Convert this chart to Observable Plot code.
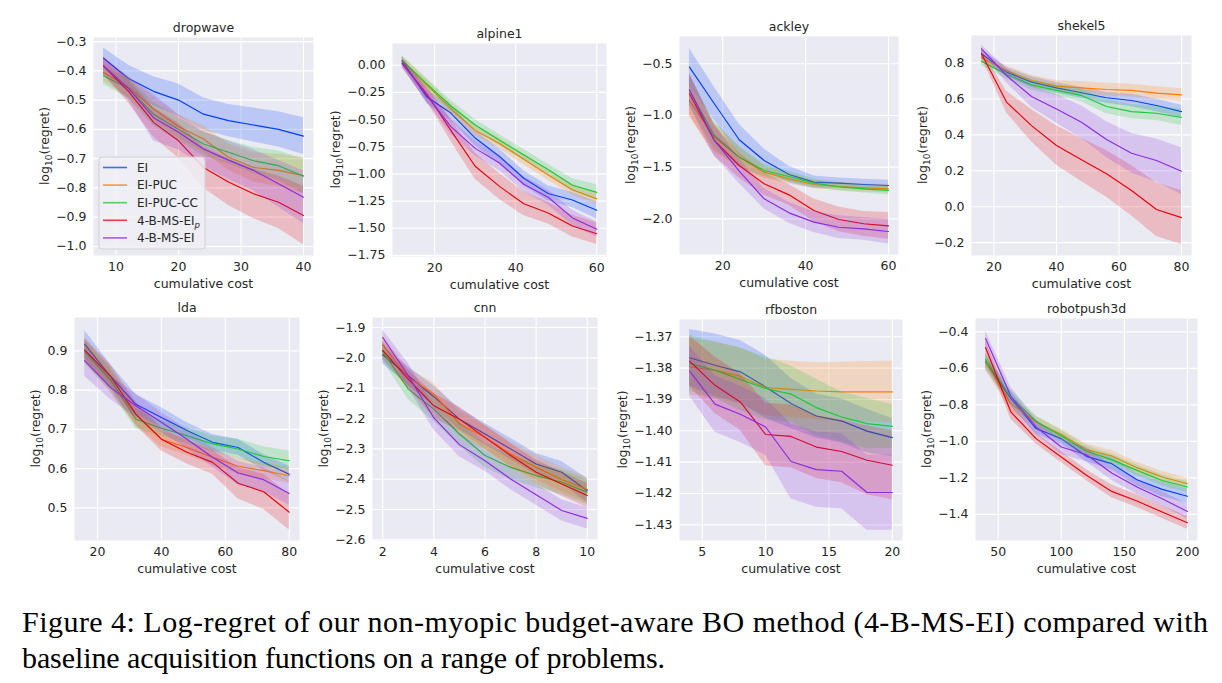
<!DOCTYPE html>
<html><head><meta charset="utf-8">
<script src="https://cdn.jsdelivr.net/npm/d3@7"></script>
<script src="https://cdn.jsdelivr.net/npm/@observablehq/plot@0.6"></script>
<style>
body{margin:0;background:#fff;}
#root{position:relative;width:1222px;height:683px;overflow:hidden;font-family:"DejaVu Sans",sans-serif;}
#root svg.panel{position:absolute;}
#caption{position:absolute;left:0;top:0;}
</style></head><body><div id="root"></div>
<script>
// ---------- series ----------
const seriesNames = ["EI", "EI-PUC", "EI-PUC-CC", "4-B-MS-EIp", "4-B-MS-EI"];
const seriesColors = ["#023eff", "#ff7c00", "#1ac938", "#e8000b", "#8b2be2"];

// ---------- dropwave ----------
const dropwaveX = [8, 12, 16, 20, 24, 28, 32, 36, 40];
const dropwaveMean = [
  [-0.357, -0.426, -0.470, -0.500, -0.548, -0.570, -0.585, -0.600, -0.623],
  [-0.406, -0.455, -0.530, -0.590, -0.633, -0.695, -0.730, -0.740, -0.758],
  [-0.417, -0.460, -0.548, -0.600, -0.650, -0.678, -0.707, -0.724, -0.760],
  [-0.383, -0.470, -0.576, -0.639, -0.730, -0.780, -0.820, -0.849, -0.894],
  [-0.383, -0.460, -0.560, -0.610, -0.667, -0.705, -0.740, -0.786, -0.832]];
const dropwaveErr = [
  [0.035, 0.045, 0.05, 0.055, 0.055, 0.055, 0.058, 0.06, 0.063],
  [0.03, 0.035, 0.04, 0.04, 0.045, 0.045, 0.05, 0.055, 0.06],
  [0.03, 0.035, 0.04, 0.04, 0.04, 0.04, 0.045, 0.05, 0.06],
  [0.03, 0.04, 0.05, 0.06, 0.07, 0.08, 0.085, 0.09, 0.1],
  [0.03, 0.04, 0.08, 0.06, 0.06, 0.065, 0.07, 0.08, 0.09]];
const dropwaveXTicks = [10, 20, 30, 40];
const dropwaveYTicks = [-1.0, -0.9, -0.8, -0.7, -0.6, -0.5, -0.4, -0.3];

// ---------- alpine1 ----------
const alpine1X = [12, 18, 24, 30, 36, 42, 48, 54, 60];
const alpine1Mean = [
  [0.04, -0.29, -0.44, -0.67, -0.84, -1.04, -1.18, -1.24, -1.335],
  [0.045, -0.18, -0.40, -0.60, -0.72, -0.865, -1.01, -1.145, -1.23],
  [0.045, -0.17, -0.375, -0.55, -0.69, -0.825, -0.96, -1.105, -1.17],
  [0.015, -0.26, -0.60, -0.93, -1.115, -1.275, -1.36, -1.48, -1.55],
  [0.02, -0.275, -0.565, -0.765, -0.90, -1.095, -1.215, -1.405, -1.51]];
const alpine1Err = [
  [0.04, 0.06, 0.07, 0.07, 0.07, 0.07, 0.07, 0.07, 0.08],
  [0.04, 0.05, 0.05, 0.05, 0.05, 0.05, 0.05, 0.05, 0.05],
  [0.04, 0.05, 0.05, 0.05, 0.05, 0.05, 0.05, 0.06, 0.07],
  [0.04, 0.07, 0.1, 0.12, 0.12, 0.11, 0.1, 0.1, 0.1],
  [0.04, 0.06, 0.07, 0.07, 0.07, 0.07, 0.07, 0.07, 0.07]];
const alpine1XTicks = [20, 40, 60];
const alpine1YTicks = [-1.75, -1.5, -1.25, -1.0, -0.75, -0.5, -0.25, 0.0];

// ---------- ackley ----------
const ackleyX = [12, 18, 24, 30, 36, 42, 48, 54, 60];
const ackleyMean = [
  [-0.532, -0.887, -1.235, -1.435, -1.571, -1.645, -1.655, -1.668, -1.677],
  [-0.855, -1.21, -1.403, -1.548, -1.613, -1.668, -1.687, -1.70, -1.71],
  [-0.758, -1.194, -1.403, -1.532, -1.59, -1.655, -1.69, -1.71, -1.726],
  [-0.79, -1.242, -1.484, -1.661, -1.768, -1.919, -2.006, -2.048, -2.068],
  [-0.752, -1.242, -1.539, -1.806, -1.942, -2.032, -2.081, -2.097, -2.123]];
const ackleyErr = [
  [0.18, 0.16, 0.15, 0.11, 0.08, 0.06, 0.05, 0.05, 0.05],
  [0.16, 0.14, 0.1, 0.06, 0.05, 0.04, 0.04, 0.04, 0.04],
  [0.15, 0.13, 0.1, 0.06, 0.05, 0.04, 0.04, 0.04, 0.04],
  [0.2, 0.15, 0.12, 0.11, 0.1, 0.11, 0.12, 0.12, 0.13],
  [0.15, 0.15, 0.12, 0.1, 0.1, 0.1, 0.11, 0.11, 0.12]];
const ackleyXTicks = [20, 40, 60];
const ackleyYTicks = [-2.0, -1.5, -1.0, -0.5];

// ---------- shekel5 ----------
const shekel5X = [16, 24, 32, 40, 48, 56, 64, 72, 80];
const shekel5Mean = [
  [0.852, 0.75, 0.694, 0.662, 0.635, 0.607, 0.592, 0.564, 0.53],
  [0.83, 0.759, 0.703, 0.672, 0.662, 0.653, 0.648, 0.633, 0.623],
  [0.811, 0.737, 0.679, 0.648, 0.62, 0.558, 0.53, 0.521, 0.497],
  [0.852, 0.583, 0.452, 0.341, 0.261, 0.183, 0.09, -0.016, -0.061],
  [0.88, 0.731, 0.614, 0.545, 0.471, 0.374, 0.298, 0.257, 0.198]];
const shekel5Err = [
  [0.025, 0.025, 0.03, 0.03, 0.03, 0.03, 0.035, 0.035, 0.035],
  [0.025, 0.025, 0.03, 0.03, 0.035, 0.035, 0.035, 0.035, 0.035],
  [0.025, 0.025, 0.03, 0.03, 0.035, 0.04, 0.04, 0.04, 0.045],
  [0.02, 0.06, 0.09, 0.11, 0.12, 0.13, 0.14, 0.15, 0.15],
  [0.02, 0.04, 0.06, 0.08, 0.09, 0.1, 0.11, 0.12, 0.13]];
const shekel5XTicks = [20, 40, 60, 80];
const shekel5YTicks = [-0.2, 0.0, 0.2, 0.4, 0.6, 0.8];

// ---------- lda ----------
const ldaX = [16, 24, 32, 40, 48, 56, 64, 72, 80];
const ldaMean = [
  [0.917, 0.836, 0.764, 0.73, 0.697, 0.667, 0.654, 0.616, 0.586],
  [0.9, 0.824, 0.737, 0.675, 0.654, 0.629, 0.606, 0.595, 0.582],
  [0.898, 0.828, 0.726, 0.703, 0.684, 0.663, 0.65, 0.631, 0.62],
  [0.902, 0.836, 0.739, 0.675, 0.642, 0.616, 0.563, 0.541, 0.489],
  [0.875, 0.807, 0.76, 0.718, 0.675, 0.629, 0.589, 0.572, 0.537]];
const ldaErr = [
  [0.035, 0.03, 0.025, 0.025, 0.02, 0.02, 0.02, 0.02, 0.02],
  [0.03, 0.03, 0.025, 0.02, 0.02, 0.02, 0.02, 0.02, 0.02],
  [0.03, 0.03, 0.025, 0.02, 0.02, 0.02, 0.025, 0.025, 0.025],
  [0.03, 0.03, 0.03, 0.03, 0.03, 0.03, 0.04, 0.045, 0.045],
  [0.04, 0.03, 0.03, 0.025, 0.025, 0.025, 0.03, 0.03, 0.03]];
const ldaXTicks = [20, 40, 60, 80];
const ldaYTicks = [0.5, 0.6, 0.7, 0.8, 0.9];

// ---------- cnn ----------
const cnnX = [2, 3, 4, 5, 6, 7, 8, 9, 10];
const cnnMean = [
  [-1.99, -2.059, -2.128, -2.202, -2.251, -2.30, -2.35, -2.377, -2.438],
  [-1.957, -2.065, -2.119, -2.218, -2.262, -2.317, -2.361, -2.401, -2.434],
  [-1.979, -2.103, -2.169, -2.251, -2.322, -2.361, -2.388, -2.41, -2.443],
  [-1.975, -2.07, -2.158, -2.202, -2.262, -2.322, -2.377, -2.416, -2.454],
  [-1.933, -2.059, -2.198, -2.286, -2.339, -2.399, -2.451, -2.503, -2.529]];
const cnnErr = [
  [0.03, 0.03, 0.035, 0.035, 0.035, 0.035, 0.035, 0.035, 0.04],
  [0.03, 0.03, 0.035, 0.04, 0.04, 0.04, 0.04, 0.04, 0.04],
  [0.03, 0.035, 0.04, 0.04, 0.04, 0.04, 0.04, 0.04, 0.04],
  [0.03, 0.03, 0.04, 0.04, 0.04, 0.04, 0.04, 0.04, 0.04],
  [0.025, 0.04, 0.04, 0.04, 0.035, 0.035, 0.035, 0.035, 0.035]];
const cnnXTicks = [2, 4, 6, 8, 10];
const cnnYTicks = [-2.6, -2.5, -2.4, -2.3, -2.2, -2.1, -2.0, -1.9];

// ---------- rfboston ----------
const rfbostonX = [4, 6, 8, 10, 12, 14, 16, 18, 20];
const rfbostonMean = [
  [-1.3767, -1.3791, -1.3812, -1.386, -1.3913, -1.3953, -1.3969, -1.4001, -1.4022],
  [-1.3796, -1.3807, -1.3826, -1.3862, -1.3868, -1.3873, -1.3876, -1.3876, -1.3876],
  [-1.3785, -1.3807, -1.3836, -1.3865, -1.3883, -1.3926, -1.3956, -1.3977, -1.3986],
  [-1.3778, -1.3855, -1.3908, -1.4012, -1.4018, -1.4052, -1.4066, -1.4094, -1.411],
  [-1.381, -1.3915, -1.3947, -1.3988, -1.4098, -1.4124, -1.4129, -1.4197, -1.4197]];
const rfbostonErr = [
  [0.009, 0.01, 0.01, 0.01, 0.008, 0.007, 0.007, 0.007, 0.006],
  [0.009, 0.009, 0.009, 0.009, 0.009, 0.009, 0.0095, 0.0097, 0.0098],
  [0.009, 0.009, 0.01, 0.01, 0.009, 0.009, 0.008, 0.008, 0.007],
  [0.008, 0.009, 0.009, 0.01, 0.01, 0.01, 0.01, 0.011, 0.011],
  [0.008, 0.009, 0.009, 0.009, 0.012, 0.012, 0.012, 0.012, 0.012]];
const rfbostonXTicks = [5, 10, 15, 20];
const rfbostonYTicks = [-1.43, -1.42, -1.41, -1.40, -1.39, -1.38, -1.37];

// ---------- robotpush3d ----------
const robotpushX = [40, 60, 80, 100, 120, 140, 160, 180, 200];
const robotpushMean = [
  [-0.565, -0.766, -0.93, -0.985, -1.082, -1.122, -1.21, -1.263, -1.301],
  [-0.57, -0.793, -0.894, -0.963, -1.045, -1.08, -1.144, -1.195, -1.232],
  [-0.552, -0.757, -0.89, -0.97, -1.054, -1.1, -1.159, -1.214, -1.25],
  [-0.486, -0.839, -0.985, -1.086, -1.186, -1.274, -1.327, -1.387, -1.446],
  [-0.437, -0.753, -0.921, -1.031, -1.073, -1.173, -1.25, -1.314, -1.384]];
const robotpushErr = [
  [0.04, 0.04, 0.03, 0.03, 0.03, 0.035, 0.035, 0.04, 0.04],
  [0.04, 0.04, 0.03, 0.03, 0.03, 0.03, 0.03, 0.03, 0.03],
  [0.04, 0.04, 0.03, 0.03, 0.03, 0.03, 0.03, 0.03, 0.03],
  [0.04, 0.04, 0.03, 0.03, 0.03, 0.035, 0.035, 0.035, 0.035],
  [0.04, 0.05, 0.04, 0.04, 0.04, 0.04, 0.04, 0.04, 0.04]];
const robotpushXTicks = [50, 100, 150, 200];
const robotpushYTicks = [-1.4, -1.2, -1.0, -0.8, -0.6, -0.4];

// ---------- caption ----------
const captionLines = [
  "Figure 4:  Log-regret of our non-myopic budget-aware BO method (4-B-MS-EI) compared with",
  "baseline acquisition functions on a range of problems."];

// ---------- layout (frame rectangles: left, top, right, bottom) ----------
const panels = [
  {title: "dropwave", x: dropwaveX, mean: dropwaveMean, err: dropwaveErr, xt: dropwaveXTicks, yt: dropwaveYTicks, fmt: ".1f", xd: [6.4, 41.6], yd: [-1.031, -0.286], f: [93, 37, 313, 255], legend: true},
  {title: "alpine1", x: alpine1X, mean: alpine1Mean, err: alpine1Err, xt: alpine1XTicks, yt: alpine1YTicks, fmt: ".2f", xd: [9.6, 62.4], yd: [-1.76, 0.2], f: [392, 43, 606, 256]},
  {title: "ackley", x: ackleyX, mean: ackleyMean, err: ackleyErr, xt: ackleyXTicks, yt: ackleyYTicks, fmt: ".1f", xd: [9.6, 62.4], yd: [-2.345, -0.236], f: [679, 36, 898, 254]},
  {title: "shekel5", x: shekel5X, mean: shekel5Mean, err: shekel5Err, xt: shekel5XTicks, yt: shekel5YTicks, fmt: ".1f", xd: [12.8, 83.2], yd: [-0.272, 0.954], f: [971, 35, 1191, 255]},
  {title: "lda", x: ldaX, mean: ldaMean, err: ldaErr, xt: ldaXTicks, yt: ldaYTicks, fmt: ".1f", xd: [12.8, 83.2], yd: [0.417, 0.985], f: [74, 317, 299, 540]},
  {title: "cnn", x: cnnX, mean: cnnMean, err: cnnErr, xt: cnnXTicks, yt: cnnYTicks, fmt: ".1f", xd: [1.6, 10.4], yd: [-2.602, -1.867], f: [372, 317, 597, 540]},
  {title: "rfboston", x: rfbostonX, mean: rfbostonMean, err: rfbostonErr, xt: rfbostonXTicks, yt: rfbostonYTicks, fmt: ".2f", xd: [3.2, 20.8], yd: [-1.435, -1.3645], f: [679, 319, 902, 540]},
  {title: "robotpush3d", x: robotpushX, mean: robotpushMean, err: robotpushErr, xt: robotpushXTicks, yt: robotpushYTicks, fmt: ".1f", xd: [32, 208], yd: [-1.543, -0.327], f: [975, 318, 1197, 540]}
];

const TEXT = "#262626";
const FS = 12.5;
const root = document.getElementById("root");
const ctx = document.createElement("canvas").getContext("2d");
ctx.font = `${FS}px "DejaVu Sans"`;

const mL = 72, mR = 8, mT = 26, mB = 42;

panels.forEach(p => {
  const [L, T, R, B] = p.f;
  const fw = R - L, fh = B - T;
  const fmt = d3.format(p.fmt);
  const rows = [];
  p.mean.forEach((arr, s) => arr.forEach((v, j) => {
    rows.push({s, x: p.x[j], y: v, lo: v - p.err[s][j], hi: v + p.err[s][j]});
  }));
  const marks = [
    Plot.frame({fill: "#eaeaf2", stroke: "none"}),
    Plot.gridX(p.xt, {stroke: "#ffffff", strokeOpacity: 1, strokeWidth: 1.1}),
    Plot.gridY(p.yt, {stroke: "#ffffff", strokeOpacity: 1, strokeWidth: 1.1}),
    Plot.axisX(p.xt, {tickSize: 0, tickPadding: 7, label: null, fill: TEXT, fontSize: FS}),
    Plot.axisY(p.yt, {tickSize: 0, tickPadding: 7, label: null, tickFormat: fmt, fill: TEXT, fontSize: FS})
  ];
  seriesNames.forEach((name, s) => {
    const r = rows.filter(d => d.s === s);
    marks.push(Plot.areaY(r, {x: "x", y1: "lo", y2: "hi", fill: seriesColors[s], fillOpacity: 0.2}));
    marks.push(Plot.lineY(r, {x: "x", y: "y", stroke: seriesColors[s], strokeWidth: 1.15}));
  });
  marks.push(Plot.text([p.title], {text: d => d, frameAnchor: "top", lineAnchor: "middle", dy: -10, fill: TEXT, fontSize: FS}));
  marks.push(Plot.text(["cumulative cost"], {text: d => d, frameAnchor: "bottom", lineAnchor: "middle", dy: 28, fill: TEXT, fontSize: FS}));

  const svg = Plot.plot({
    width: fw + mL + mR, height: fh + mT + mB,
    marginLeft: mL, marginRight: mR, marginTop: mT, marginBottom: mB,
    x: {domain: p.xd, axis: null},
    y: {domain: p.yd, axis: null},
    style: {fontFamily: '"DejaVu Sans", sans-serif', fontSize: FS + "px", color: TEXT, background: "transparent", overflow: "visible"},
    marks
  });
  svg.classList.add("panel");
  svg.style.left = (L - mL) + "px";
  svg.style.top = (T - mT) + "px";
  root.appendChild(svg);

  // y label with subscript
  const maxW = d3.max(p.yt, t => ctx.measureText(fmt(t)).width);
  const lx = mL - 7 - maxW - 11;
  const cy = mT + fh / 2;
  const t = d3.select(svg).append("text")
    .attr("transform", `translate(${lx},${cy}) rotate(-90)`)
    .attr("text-anchor", "middle").attr("fill", TEXT).attr("font-size", FS)
    .attr("font-family", '"DejaVu Sans", sans-serif');
  t.append("tspan").attr("dy", "0.35em").text("log");
  t.append("tspan").attr("font-size", 9).attr("dy", 3).text("10");
  t.append("tspan").attr("dy", -3).text("(regret)");

  if (p.legend) {
    const bw = 106, bh = 92;
    const bx = mL + 6, by = mT + fh - 6 - bh;
    const g = d3.select(svg).append("g").attr("text-anchor", "start");
    g.append("rect").attr("x", bx).attr("y", by).attr("width", bw).attr("height", bh)
      .attr("rx", 3).attr("fill", "#eeeef4").attr("fill-opacity", 0.85)
      .attr("stroke", "#d0d0d6").attr("stroke-width", 1);
    seriesNames.forEach((name, s) => {
      const yy = by + 10.5 + s * 17.6;
      g.append("line").attr("x1", bx + 4).attr("x2", bx + 28).attr("y1", yy).attr("y2", yy)
        .attr("stroke", seriesColors[s]).attr("stroke-width", 1.6).attr("stroke-opacity", 0.75);
      const tx = g.append("text").attr("x", bx + 38).attr("y", yy).attr("dy", "0.35em")
        .attr("text-anchor", "start").attr("fill", TEXT).attr("font-size", 12);
      if (name === "4-B-MS-EIp") {
        tx.append("tspan").text("4-B-MS-EI");
        tx.append("tspan").attr("font-size", 8.5).attr("font-style", "italic").attr("dy", 3).text("p");
      } else {
        tx.text(name);
      }
    });
  }
});

// caption
const cap = d3.select(root).append("svg").attr("id", "caption").attr("width", 1222).attr("height", 683)
  .style("pointer-events", "none");
cap.append("text").attr("x", 22).attr("y", 632).attr("font-family", '"Liberation Serif", "Times New Roman", serif')
  .attr("font-size", 30).attr("fill", "#000").attr("textLength", 1186).attr("lengthAdjust", "spacing")
  .text(captionLines[0]);
cap.append("text").attr("x", 22).attr("y", 668).attr("font-family", '"Liberation Serif", "Times New Roman", serif')
  .attr("font-size", 30).attr("fill", "#000").attr("textLength", 643).attr("lengthAdjust", "spacing")
  .text(captionLines[1]);
</script>
</body></html>
